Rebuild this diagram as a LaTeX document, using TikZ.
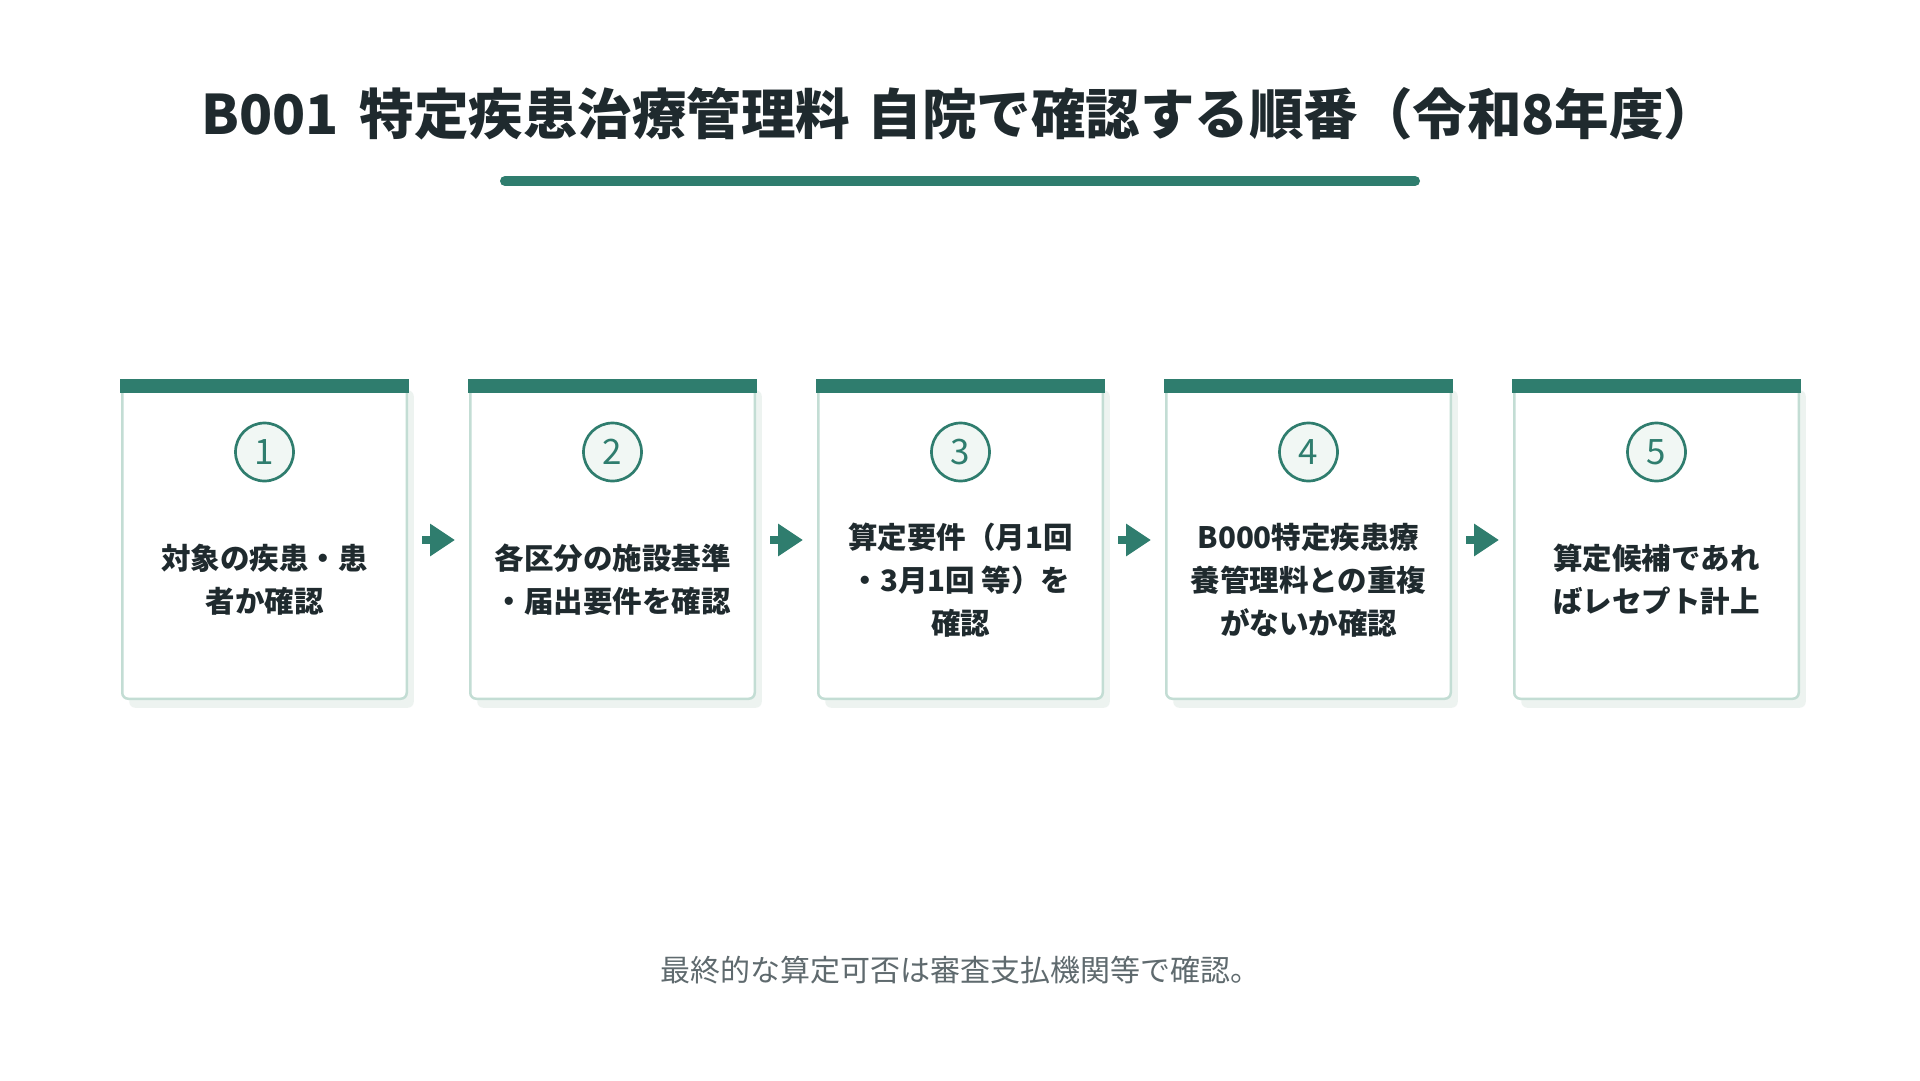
\documentclass[tikz,border=0pt]{standalone}
\usepackage{fontspec}
\setmainfont{Noto Sans CJK JP}
\usetikzlibrary{arrows.meta, positioning, shadows}
\definecolor{maingreen}{HTML}{2F7D6E}
\definecolor{edgegreen}{HTML}{C3DDD4}
\definecolor{shadowgray}{HTML}{EDF3F0}
\definecolor{circlefill}{HTML}{F1F7F4}
\definecolor{darktext}{HTML}{1F2A2E}
\definecolor{notegray}{HTML}{5F6A6E}
\tikzset{
 stepbox/.style={draw=edgegreen, line width=2.5pt, fill=white, rounded corners=6pt,
   minimum width=284.5pt, minimum height=317.5pt, inner sep=0pt,
   drop shadow={shadow xshift=7pt, shadow yshift=-9pt, fill=shadowgray, opacity=1}},
 numcircle/.style={circle, draw=maingreen, line width=2.7pt, fill=circlefill,
   minimum size=58pt, inner sep=0pt, text=maingreen, font=\fontsize{35}{35}\selectfont},
 steptext/.style={align=center, text=darktext, font=\fontsize{29.5}{43}\selectfont\bfseries},
 flowarrow/.style={draw=maingreen, line width=8pt, shorten <=14pt, shorten >=14pt,
   -{Triangle[length=25pt,width=31pt]}}
}
\begin{document}
\begin{tikzpicture}[x=1pt, y=-1pt]
 \useasboundingbox[fill=white] (0,0) rectangle (1920,1080);
 % title
 \node[text=darktext, font=\fontsize{54.5}{56}\selectfont\bfseries] (title) at (960,114) {B001\hspace{0.38em}特定疾患治療管理料\hspace{0.32em}自院で確認する順番（令和8年度）};
 \draw[maingreen, line width=10pt, line cap=round] (505,181) -- (1415,181);
 % steps
 \node[stepbox] (b1) at (264.5,540) {};
 \node[stepbox] (b2) at (612.5,540) {};
 \node[stepbox] (b3) at (960.5,540) {};
 \node[stepbox] (b4) at (1308.5,540) {};
 \node[stepbox] (b5) at (1656.5,540) {};
 \fill[maingreen] ([xshift=-1.3pt,yshift=1.3pt]b1.north west) rectangle ([xshift=1.3pt,yshift=-13pt]b1.north east);
 \fill[maingreen] ([xshift=-1.3pt,yshift=1.3pt]b2.north west) rectangle ([xshift=1.3pt,yshift=-13pt]b2.north east);
 \fill[maingreen] ([xshift=-1.3pt,yshift=1.3pt]b3.north west) rectangle ([xshift=1.3pt,yshift=-13pt]b3.north east);
 \fill[maingreen] ([xshift=-1.3pt,yshift=1.3pt]b4.north west) rectangle ([xshift=1.3pt,yshift=-13pt]b4.north east);
 \fill[maingreen] ([xshift=-1.3pt,yshift=1.3pt]b5.north west) rectangle ([xshift=1.3pt,yshift=-13pt]b5.north east);
 \node[numcircle] (n1) at ([yshift=-72pt]b1.north) {1};
 \node[numcircle] (n2) at ([yshift=-72pt]b2.north) {2};
 \node[numcircle] (n3) at ([yshift=-72pt]b3.north) {3};
 \node[numcircle] (n4) at ([yshift=-72pt]b4.north) {4};
 \node[numcircle] (n5) at ([yshift=-72pt]b5.north) {5};
 \node[steptext] (t1) at ([yshift=-200pt]b1.north) {対象の疾患・患\\者か確認};
 \node[steptext] (t2) at ([yshift=-200pt]b2.north) {各区分の施設基準\\・届出要件を確認};
 \node[steptext] (t3) at ([yshift=-200pt]b3.north) {算定要件（月1回\\・3月1回 等）を\\確認};
 \node[steptext] (t4) at ([yshift=-200pt]b4.north) {B000特定疾患療\\養管理料との重複\\がないか確認};
 \node[steptext] (t5) at ([yshift=-200pt]b5.north) {算定候補であれ\\ばレセプト計上};
 \draw[flowarrow] (b1) -- (b2);
 \draw[flowarrow] (b2) -- (b3);
 \draw[flowarrow] (b3) -- (b4);
 \draw[flowarrow] (b4) -- (b5);
 % note
 \node[text=notegray, font=\fontsize{30}{30}\selectfont] (note) at (960,970) {最終的な算定可否は審査支払機関等で確認。};
\end{tikzpicture}
\end{document}
